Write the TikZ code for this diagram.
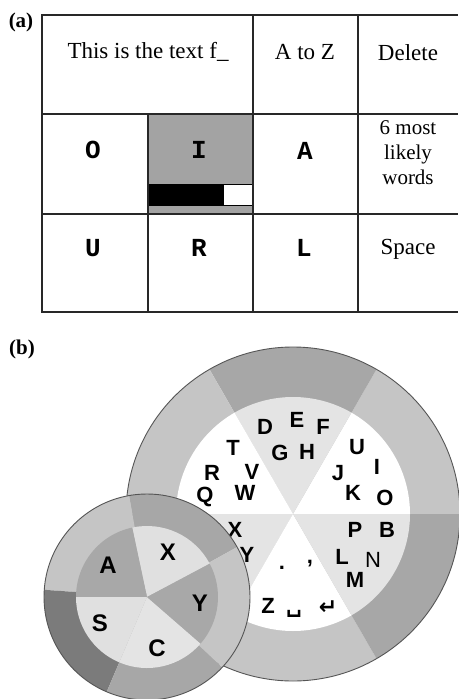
\documentclass[tikz,border=0pt]{standalone}
\usepackage{fontspec}
\setmainfont{Liberation Serif}
\setsansfont{Liberation Sans}
\setmonofont{Liberation Mono}
\newfontfamily\arrowFont{DejaVu Sans}
\tikzstyle{screen} = [x = 1pt, y = -1pt]
\definecolor{gridColor}{RGB}{40,40,40}
\definecolor{rimColor}{RGB}{85,85,85}
\definecolor{cellGray}{RGB}{163,163,163}
\definecolor{ringDark}{RGB}{167,167,167}
\definecolor{ringLight}{RGB}{197,197,197}
\definecolor{ringDeep}{RGB}{123,123,123}
\definecolor{wedgeGray}{RGB}{228,228,228}
\definecolor{wedgeMid}{RGB}{168,168,168}
\definecolor{wedgePale}{RGB}{224,224,224}
\tikzstyle{gridLine} = [color=gridColor, line width=1.4pt]
\tikzstyle{cellText} = [font=\fontsize{23}{25}\selectfont, inner sep=0pt, align=center]
\tikzstyle{keyText} = [font=\ttfamily\bfseries\fontsize{26}{26}\selectfont, inner sep=0pt]
\tikzstyle{panelLabel} = [font=\fontsize{21}{25}\selectfont\bfseries, inner sep=0pt]
\tikzstyle{wheelLetter} = [font=\sffamily\bfseries\fontsize{22}{22}\selectfont, inner sep=0pt]
\tikzstyle{smallWheelLetter} = [font=\sffamily\bfseries\fontsize{24}{24}\selectfont, inner sep=0pt]
\tikzstyle{rimLine} = [draw=rimColor, line width=0.9pt]
\newcommand{\pieSlice}[5]{\fill [#1] (#2) -- ++(-#3:#5) arc [start angle=-#3, end angle=-#4, radius=#5] -- cycle;}

\begin{document}
\begin{tikzpicture}[screen]
  \useasboundingbox [fill=white] (0,0) rectangle (458,699);

  \node [panelLabel] (labelA) at (21,22) {(a)};
  \fill [cellGray] (148,114) rectangle (253,214);
  \fill [black] (148,184) rectangle (223,206);
  \filldraw [fill=white, draw=black, line width=1pt] (223,184.5) rectangle (252,205.5);
  \foreach \column in {42,253,358} {
    \draw [gridLine] (\column,15) -- (\column,312);
  }
  \draw [gridLine] (148,114) -- (148,312);
  \foreach \row in {15,114,214,312} {
    \draw [gridLine] (41.3,\row) -- (458,\row);
  }
  \node [cellText] (textLine) at (148,52) {This is the text f\_};
  \node [cellText] (atoz) at (305,52) {A to Z};
  \node [cellText] (delete) at (408,53) {Delete};
  \node [keyText] (keyO) at (93,150) {O};
  \node [keyText] (keyI) at (199,150) {I};
  \node [keyText] (keyA) at (305,151) {A};
  \node [cellText, font=\fontsize{21}{25}\selectfont] (words) at (408,153) {6 most\\likely\\words};
  \node [keyText] (keyU) at (93,248) {U};
  \node [keyText] (keyR) at (199,248) {R};
  \node [keyText] (keyL) at (304,248) {L};
  \node [cellText] (space) at (408,249) {Space};

  \node [panelLabel] (labelB) at (22,349) {(b)};
  \coordinate (bigC) at (293,514);
  \coordinate (smallC) at (147,597);

  \foreach \a/\b/\c in {0/60/ringLight,60/120/ringDark,120/180/ringLight,180/240/ringDark,240/300/ringLight,300/360/ringDark} {
    \pieSlice{\c}{bigC}{\a}{\b}{167}
  }
  \foreach \a/\b/\c in {0/60/white,60/120/wedgeGray,120/180/white,180/240/wedgeGray,240/300/white,300/360/wedgeGray} {
    \pieSlice{\c}{bigC}{\a}{\b}{117}
  }
  \draw [rimLine] (bigC) circle [radius=167];

  \node [wheelLetter] (lD) at (265,427) {D};
  \node [wheelLetter] (lE) at (297,420) {E};
  \node [wheelLetter] (lF) at (323,427) {F};
  \node [wheelLetter] (lG) at (280,453) {G};
  \node [wheelLetter] (lH) at (307,452) {H};
  \node [wheelLetter] (lT) at (233,448) {T};
  \node [wheelLetter] (lR) at (212,473) {R};
  \node [wheelLetter] (lV) at (252,472) {V};
  \node [wheelLetter] (lQ) at (205,497) {Q};
  \node [wheelLetter] (lW) at (245,493) {W};
  \node [wheelLetter] (lU) at (357,447) {U};
  \node [wheelLetter] (lI) at (377,467) {I};
  \node [wheelLetter] (lJ) at (338,473) {J};
  \node [wheelLetter] (lK) at (353,493) {K};
  \node [wheelLetter] (lO) at (385,498) {O};
  \node [wheelLetter] (lP) at (355,530) {P};
  \node [wheelLetter] (lB) at (387,530) {B};
  \node [wheelLetter] (lL) at (342,557) {L};
  \node [wheelLetter, font=\sffamily\fontsize{22}{22}\selectfont] (lN) at (373,560) {N};
  \node [wheelLetter] (lM) at (355,580) {M};
  \node [wheelLetter] (lX) at (235,530) {X};
  \node [wheelLetter] (lY) at (247,555) {Y};
  \node [wheelLetter] (lDot) at (282,568) {.};
  \node [wheelLetter] (lComma) at (310,564) {,};
  \node [wheelLetter] (lZ) at (268,606) {Z};
  \node [wheelLetter, font=\arrowFont\bfseries\fontsize{22}{22}\selectfont] (lSpace) at (294,614) {␣};
  \node [wheelLetter, font=\arrowFont\bfseries\fontsize{22}{22}\selectfont] (lEnter) at (328,608) {↵};

  \foreach \a/\b/\c in {29/100/ringDark,100/176/ringLight,176/247/ringDeep,247/317/ringDark,317/389/ringLight} {
    \pieSlice{\c}{smallC}{\a}{\b}{103}
  }
  \foreach \a/\b/\c in {28/102/wedgePale,102/180/wedgeMid,180/247/wedgePale,247/319/wedgeGray,319/388/wedgeMid} {
    \pieSlice{\c}{smallC}{\a}{\b}{71}
  }
  \draw [rimLine] (smallC) circle [radius=103];

  \node [smallWheelLetter] (sA) at (108,565) {A};
  \node [smallWheelLetter] (sX) at (168,552) {X};
  \node [smallWheelLetter] (sY) at (200,603) {Y};
  \node [smallWheelLetter] (sC) at (157,648) {C};
  \node [smallWheelLetter] (sS) at (100,623) {S};
\end{tikzpicture}
\end{document}
